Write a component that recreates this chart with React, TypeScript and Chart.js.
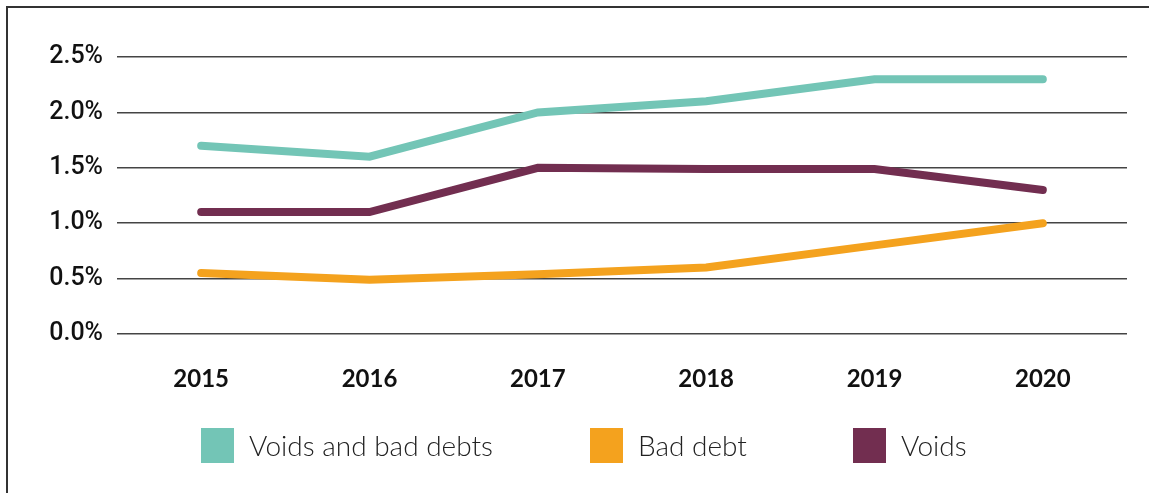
import React, { useEffect, useRef } from "react";
import { Chart, registerables } from "chart.js";

Chart.register(...registerables);

const years = ["2015", "2016", "2017", "2018", "2019", "2020"];
const voidsAndBadDebts = [1.7, 1.6, 2.0, 2.1, 2.3, 2.3];
const badDebt = [0.55, 0.49, 0.54, 0.6, 0.8, 1.0];
const voids = [1.1, 1.1, 1.5, 1.49, 1.49, 1.3];
const seriesNames = ["Voids and bad debts", "Bad debt", "Voids"];
const seriesColors = ["#73C5B6", "#F4A21E", "#722E50"];

const legendLefts = [201, 590, 853];

export default function App() {
  const ref = useRef<HTMLCanvasElement | null>(null);
  useEffect(() => {
    if (!ref.current) return;
    const chart = new Chart(ref.current, {
      type: "line",
      data: {
        labels: years,
        datasets: [voidsAndBadDebts, badDebt, voids].map((d, i) => ({
          label: seriesNames[i],
          data: d,
          borderColor: seriesColors[i],
          backgroundColor: seriesColors[i],
          borderWidth: 8,
          borderCapStyle: "round" as const,
          borderJoinStyle: "miter" as const,
          pointRadius: 0,
          tension: 0,
        })),
      },
      options: {
        animation: false,
        responsive: false,
        layout: { padding: { left: 0, right: 22, top: 57, bottom: 99 } },
        plugins: { legend: { display: false }, tooltip: { enabled: false } },
        scales: {
          x: {
            offset: true,
            grid: { display: false, drawTicks: false },
            border: { display: false },
            ticks: {
              padding: 31,
              color: "#111",
              font: { family: "Lato", size: 24, weight: "bold" },
            },
            afterFit: (s: any) => {
              s.height = 60;
            },
          },
          y: {
            min: 0,
            max: 2.5,
            grid: { color: "#444", lineWidth: 1.5, drawTicks: false },
            border: { display: false },
            ticks: {
              stepSize: 0.5,
              padding: 14,
              color: "#111",
              font: { family: "Roboto", size: 25, weight: 500 },
              callback: (v: any) => Number(v).toFixed(1) + "%",
            },
            afterFit: (s: any) => {
              s.width = 117;
            },
          },
        },
      },
    });
    return () => chart.destroy();
  }, []);

  return (
    <div style={{ position: "fixed", left: 0, top: 0, width: 1149, height: 493, background: "#fff", overflow: "hidden" }}>
      <canvas ref={ref} width={1149} height={493} style={{ position: "absolute", left: 0, top: 0, width: 1149, height: 493 }} />
      <div style={{ position: "absolute", left: 6, top: 6, width: 1143, height: 2, background: "#333" }} />
      <div style={{ position: "absolute", left: 6, top: 6, width: 2, height: 487, background: "#333" }} />
      {seriesNames.map((n, i) => (
        <div key={n} style={{ position: "absolute", left: legendLefts[i], top: 428, height: 35, display: "flex", alignItems: "center" }}>
          <div style={{ width: 33, height: 35, background: seriesColors[i] }} />
          <span style={{ marginLeft: 15, fontFamily: "Lato", fontWeight: 300, fontSize: 28, color: "#222", whiteSpace: "nowrap", lineHeight: "35px" }}>{n}</span>
        </div>
      ))}
    </div>
  );
}
